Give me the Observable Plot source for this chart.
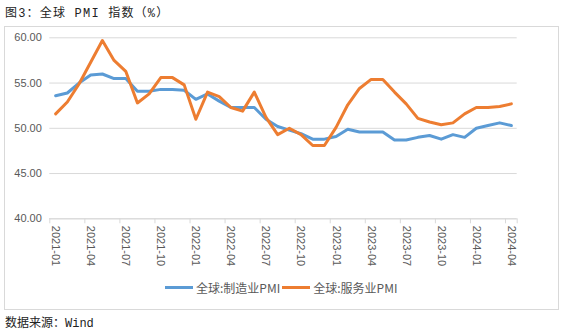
<!DOCTYPE html>
<html>
<head>
<meta charset="utf-8">
<script src="https://cdn.jsdelivr.net/npm/d3@7"></script>
<script src="https://cdn.jsdelivr.net/npm/@observablehq/plot@0.6"></script>
<style>
  html, body { margin: 0; padding: 0; background: #fff; }
  #wrap { position: relative; width: 566px; height: 335px; overflow: hidden; }
  #title { position: absolute; left: 5px; top: 3px; font: 12px "Liberation Mono", "Noto Sans CJK SC", monospace; letter-spacing: 1.2px; color: #222; white-space: nowrap; }
  #box { position: absolute; left: 4px; top: 26px; width: 553px; height: 282px; border: 1px solid #d9d9d9; }
  #chart { position: absolute; left: 0; top: 0; }
  #legend { position: absolute; left: 165px; top: 279px; display: flex; align-items: center; font: 12px "Noto Sans CJK SC", sans-serif; color: #595959; white-space: nowrap; }
  #legend .sw { display: inline-block; width: 28px; height: 3px; margin-right: 3px; }
  #legend .item { display: flex; align-items: center; margin-right: 2px; }
  #caption { position: absolute; left: 5px; top: 313px; font: 12px "Liberation Mono", "Noto Sans CJK SC", monospace; color: #222; white-space: nowrap; }
</style>
</head>
<body>
<div id="wrap">
  <div id="title">图3：全球 PMI 指数（%）</div>
  <div id="box"></div>
  <div id="chart"></div>
  <div id="legend"></div>
  <div id="caption">数据来源：Wind</div>
</div>
<script>
const months = [
  "2021-01","2021-02","2021-03","2021-04","2021-05","2021-06","2021-07","2021-08","2021-09","2021-10","2021-11","2021-12",
  "2022-01","2022-02","2022-03","2022-04","2022-05","2022-06","2022-07","2022-08","2022-09","2022-10","2022-11","2022-12",
  "2023-01","2023-02","2023-03","2023-04","2023-05","2023-06","2023-07","2023-08","2023-09","2023-10","2023-11","2023-12",
  "2024-01","2024-02","2024-03","2024-04"
];
const manufacturing = [53.6, 53.9, 55.0, 55.9, 56.0, 55.5, 55.5, 54.1, 54.1, 54.3, 54.3, 54.2,
  53.2, 53.8, 53.0, 52.3, 52.3, 52.3, 51.0, 50.2, 49.8, 49.4, 48.8, 48.8,
  49.1, 49.9, 49.6, 49.6, 49.6, 48.7, 48.7, 49.0, 49.2, 48.8, 49.3, 49.0,
  50.0, 50.3, 50.6, 50.3];
const services = [51.6, 52.9, 54.9, 57.3, 59.7, 57.5, 56.3, 52.8, 53.8, 55.6, 55.6, 54.8,
  51.0, 54.0, 53.5, 52.3, 51.9, 54.0, 51.2, 49.3, 50.0, 49.3, 48.1, 48.1,
  50.1, 52.6, 54.4, 55.4, 55.4, 54.0, 52.7, 51.1, 50.7, 50.4, 50.6, 51.6,
  52.3, 52.3, 52.4, 52.7];
const seriesNames = ["全球:制造业PMI", "全球:服务业PMI"];
const seriesColors = ["#5B9BD5", "#ED7D31"];
const yTicks = [40, 45, 50, 55, 60];

const rows = [];
months.forEach((m, i) => {
  rows.push({i, month: m, value: manufacturing[i], series: seriesNames[0]});
  rows.push({i, month: m, value: services[i], series: seriesNames[1]});
});
const labelIdx = months.map((m, i) => i).filter(i => i % 3 === 0);
const boundaries = labelIdx.map(i => i - 0.5).concat([months.length - 0.5]);

const chart = Plot.plot({
  width: 566,
  height: 270,
  marginLeft: 49.3,
  marginRight: 49.3,
  marginTop: 37.3,
  marginBottom: 51.7,
  style: {fontFamily: "'Liberation Sans', Arial, sans-serif", fontSize: "11px", color: "#595959", background: "transparent", overflow: "visible"},
  x: {domain: [-0.5, months.length - 0.5], label: null},
  y: {domain: [40, 60], label: null},
  color: {domain: seriesNames, range: seriesColors},
  marks: [
    Plot.gridY({ticks: yTicks, stroke: "#d9d9d9", strokeOpacity: 1, strokeWidth: 1}),
    Plot.ruleY([40], {stroke: "#d9d9d9", strokeWidth: 1}),
    Plot.axisX({ticks: boundaries, tickSize: 5, tickFormat: () => "", label: null, stroke: "#d9d9d9", strokeOpacity: 1}),
    Plot.axisX({ticks: labelIdx, tickSize: 0, tickPadding: 7, tickRotate: 90, tickFormat: i => months[i], label: null, fill: "#595959"}),
    Plot.axisY({ticks: yTicks, tickSize: 0, tickPadding: 8, tickFormat: d3.format(".2f"), label: null, fill: "#595959"}),
    Plot.line(rows, {x: "i", y: "value", stroke: "series", z: "series", strokeWidth: 3, strokeLinejoin: "round", strokeLinecap: "round"})
  ]
});
document.getElementById("chart").appendChild(chart);

const legend = document.getElementById("legend");
seriesNames.forEach((name, k) => {
  const item = document.createElement("span");
  item.className = "item";
  const sw = document.createElement("span");
  sw.className = "sw";
  sw.style.background = seriesColors[k];
  item.appendChild(sw);
  item.appendChild(document.createTextNode(name));
  legend.appendChild(item);
});
</script>
</body>
</html>
